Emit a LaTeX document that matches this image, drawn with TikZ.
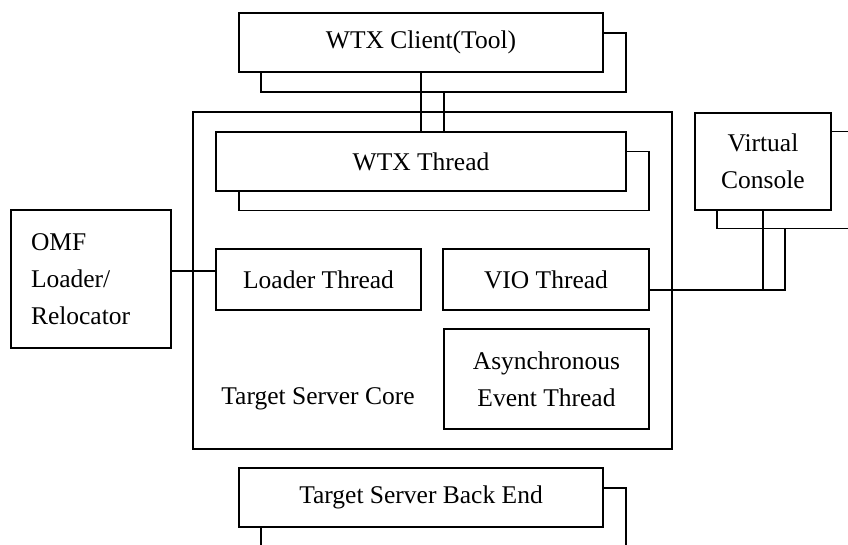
\documentclass[tikz,border=0pt]{standalone}
\usepackage{fontspec}
\setmainfont{Liberation Serif}
\usetikzlibrary{calc}

\begin{document}
\begin{tikzpicture}[x=1pt,y=-1pt,
    box/.style={draw,fill=white,line width=1.1pt,inner sep=0pt,align=center,
      font=\fontsize{25.5}{37}\selectfont},
    wire/.style={line width=1.1pt}]
  \clip (0,0) rectangle (848,544);
  % core with its threads
  \node[box,minimum width=479,minimum height=337] (core) at (432.5,280.5) {};
  \node[anchor=center,font=\fontsize{25.5}{37}\selectfont] (corelbl) at (318,399) {Target Server Core};
  \node[box,minimum width=365,minimum height=59] (clientshade) at (443.5,62.5) {};
  \node[box,minimum width=364,minimum height=59] (client) at (421,42.5) {WTX Client(Tool)};
  \node[box,minimum width=410,minimum height=59] (wtxshade) at (444,181) {};
  \node[box,minimum width=410,minimum height=59] (wtx) at (421,161.5) {WTX Thread};
  \node[box,minimum width=205,minimum height=61] (loader) at (318.5,279.5) {Loader Thread};
  \node[box,minimum width=206,minimum height=61] (vio) at (546,279.5) {VIO Thread};
  \node[box,minimum width=205,minimum height=100] (async) at (546.5,379) {Asynchronous\\Event Thread};
  % outside boxes
  \node[box,minimum width=160,minimum height=138,text width=120,align=left] (omf) at (91,279) {OMF\\Loader/\\Relocator};
  \node[box,minimum width=136,minimum height=97] (vcshade) at (785,180) {};
  \node[box,minimum width=136,minimum height=97] (vc) at (763,161.5) {Virtual\\Console};
  \node[box,minimum width=365,minimum height=59] (backshade) at (443.5,517.5) {};
  \node[box,minimum width=364,minimum height=59] (back) at (421,497.5) {Target Server Back End};
  % links
  \coordinate (wtxtap) at ($(wtx.north)+(23,0)$);
  \draw[wire] (wtx.north) -- (client.south);
  \draw[wire] (wtxtap) -- (wtxtap |- clientshade.south);
  \coordinate (omftap) at ($(omf.east)+(0,-8)$);
  \draw[wire] (omftap) -- (omftap -| loader.west);
  \coordinate (viotap) at ($(vio.east)+(0,10.5)$);
  \draw[wire] (viotap) -| (vcshade.south);
  \draw[wire] (vc.south) -- (vc.south |- viotap);
\end{tikzpicture}
\end{document}
